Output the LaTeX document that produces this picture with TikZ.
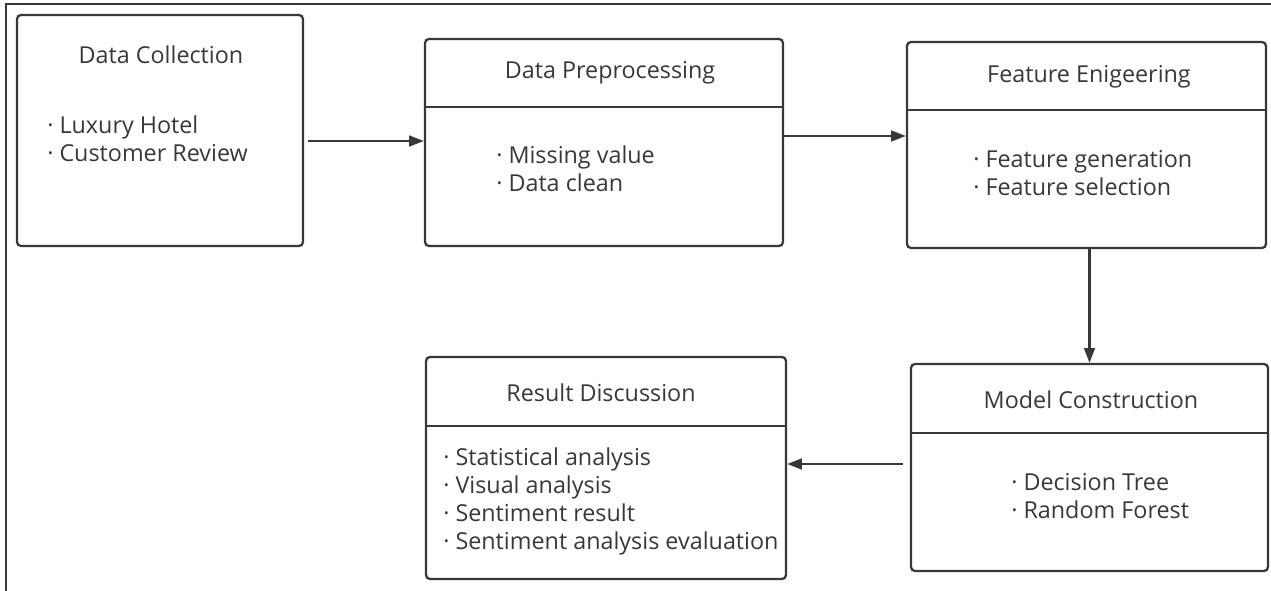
\documentclass[tikz,border=0pt]{standalone}
\usepackage{fontspec}
\setmainfont{Open Sans}
\usetikzlibrary{arrows.meta}
\definecolor{inkgray}{HTML}{383838}
\tikzset{
  stagebox/.style={draw=inkgray, line width=1.7pt, rounded corners=3pt, inner sep=0pt},
  title/.style={text=inkgray, font=\fontsize{17.5}{21}\selectfont, inner sep=0.75pt},
  items/.style={text=inkgray, font=\fontsize{17.5}{21}\selectfont, anchor=north west, align=left, inner sep=0.75pt},
  flow/.style={draw=inkgray, line width=1.7pt, -{Triangle[length=11pt,width=8pt]}},
}

\begin{document}
\begin{tikzpicture}[x=0.75pt,y=0.75pt,yscale=-1,xscale=1]
\useasboundingbox (0,0) rectangle (1271,591);

%Frame
\coordinate (fr) at (6,4);
\draw[inkgray, line width=1.2pt] (fr |- 0,591) -- (fr) -- (1271,4);

%Boxes
\node[stagebox, minimum width=214.5pt, minimum height=173.25pt] (collect) at (160,130.5) {};
\node[stagebox, minimum width=268.5pt, minimum height=155.25pt] (prep) at (604,142.5) {};
\node[stagebox, minimum width=269.25pt, minimum height=154.5pt] (feat) at (1086.5,145) {};
\node[stagebox, minimum width=267.75pt, minimum height=155.25pt] (model) at (1089.5,467.5) {};
\node[stagebox, minimum width=270pt, minimum height=166.5pt] (result) at (606,468) {};

%Dividers
\draw[inkgray, line width=1.7pt] (prep.west |- 0,107) -- (prep.east |- 0,107);
\draw[inkgray, line width=1.7pt] (feat.west |- 0,110) -- (feat.east |- 0,110);
\draw[inkgray, line width=1.7pt] (model.west |- 0,433) -- (model.east |- 0,433);
\draw[inkgray, line width=1.7pt] (result.west |- 0,426) -- (result.east |- 0,426);

% Text Node
\node[title] (collectT) at (161,55) {Data Collection};
\node[items] (collectL) at (46,115) {· Luxury Hotel\\· Customer Review};
% Text Node
\node[title] (prepT) at (610,73) {Data Preprocessing};
\node[items] (prepL) at (495,145) {· Missing value\\· Data clean};
% Text Node
\node[title] (featT) at (1089,77) {Feature Enigeering};
\node[items] (featL) at (972,149) {· Feature generation\\· Feature selection};
% Text Node
\node[title] (modelT) at (1091,400) {Model Construction};
\node[items] (modelL) at (1010,472) {· Decision Tree\\· Random Forest};
% Text Node
\node[title] (resultT) at (601,393) {Result Discussion};
\node[items] (resultL) at (442,447) {· Statistical analysis\\· Visual analysis\\· Sentiment result\\· Sentiment analysis evaluation};

%Arrows
\draw[flow, shorten <=3pt] (collect.east |- 0,141) -- (prep.west |- 0,141);
\draw[flow] (prep.east |- 0,136) -- (feat.west |- 0,136);
\draw[flow] (feat.south -| model.north) -- (model.north);
\draw[flow, shorten <=5pt] (model.west |- 0,464) -- (result.east |- 0,464);

\end{tikzpicture}
\end{document}
